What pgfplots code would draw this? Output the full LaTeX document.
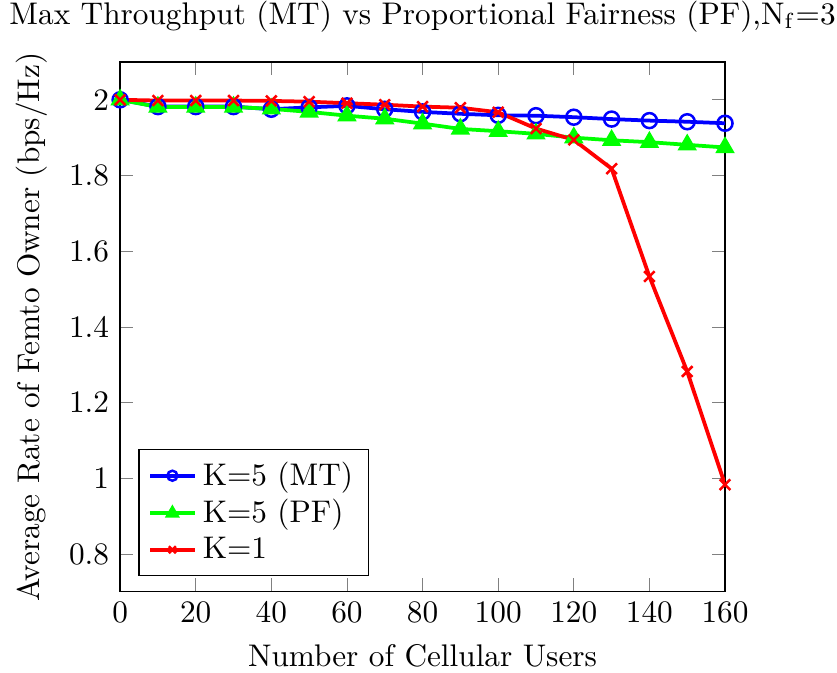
\documentclass[border=0pt]{standalone}
\usepackage{pgfplots}
\pgfplotsset{compat=1.18}
\begin{document}
\begin{tikzpicture}
\begin{axis}[
  scale only axis,
  width=193.4pt, height=169.4pt,
  xmin=0, xmax=160, ymin=0.7, ymax=2.1,
  xtick={0,20,...,160},
  ytick={0.8,1,1.2,1.4,1.6,1.8,2},
  yticklabels={0.8,1,1.2,1.4,1.6,1.8,2},
  title={Max Throughput (MT) vs Proportional Fairness (PF),N$_{\mathrm{f}}$=3},
  xlabel={Number of Cellular Users},
  ylabel={Average Rate of Femto Owner (bps/Hz)},
  legend pos=south west,
  legend cell align=left,
  legend style={row sep=-1pt, inner ysep=2pt},
  legend image code/.code={\draw[mark repeat=2,mark phase=2,mark size=1.6pt] plot coordinates {(0cm,0cm) (0.25cm,0cm) (0.5cm,0cm)};},
  every axis plot/.append style={very thick, mark size=2.4pt},
]
\addplot[blue, mark=o, mark options={solid, thick}] coordinates {
(0,2.0) (10,1.982) (20,1.982) (30,1.982) (40,1.975) (50,1.980) (60,1.984) (70,1.975) (80,1.968)
(90,1.963) (100,1.959) (110,1.958) (120,1.954) (130,1.949) (140,1.945) (150,1.942) (160,1.938)};
\addlegendentry{K=5 (MT)}
\addplot[green, mark=triangle*] coordinates {
(0,2.0) (10,1.981) (20,1.981) (30,1.981) (40,1.976) (50,1.968) (60,1.958) (70,1.950) (80,1.937)
(90,1.923) (100,1.917) (110,1.910) (120,1.900) (130,1.893) (140,1.888) (150,1.881) (160,1.874)};
\addlegendentry{K=5 (PF)}
\addplot[red, mark=x, mark options={thick}] coordinates {
(0,2.0) (10,1.998) (20,1.998) (30,1.998) (40,1.997) (50,1.995) (60,1.991) (70,1.987) (80,1.982)
(90,1.979) (100,1.967) (110,1.924) (120,1.894) (130,1.818) (140,1.533) (150,1.282) (160,0.983)};
\addlegendentry{K=1}
\end{axis}
\pgfresetboundingbox
\useasboundingbox ([xshift=-38.4pt,yshift=-25.9pt]current axis.south west) rectangle ([xshift=35.8pt,yshift=19.8pt]current axis.north east);
\end{tikzpicture}
\end{document}
